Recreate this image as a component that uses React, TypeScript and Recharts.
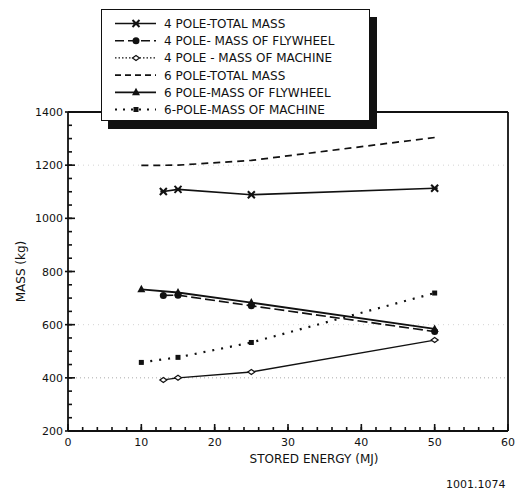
import React from 'react';
import { LineChart, Line, XAxis, YAxis, ReferenceLine } from 'recharts';

// stored energy (MJ) for each machine design
const energy4Pole = [13, 15, 25, 50];
const energy6Pole = [10, 15, 25, 50];

// masses (kg)
const total4Pole = [1101, 1109, 1089, 1113];
const flywheel4Pole = [710, 711, 671, 574];
const machine4Pole = [392, 400, 422, 542];
const total6Pole = [1199, 1200, 1218, 1304];
const flywheel6Pole = [733, 721, 683, 584];
const machine6Pole = [458, 477, 533, 719];

const seriesNames = [
    '4 POLE-TOTAL MASS',
    '4 POLE- MASS OF FLYWHEEL',
    '4 POLE - MASS OF MACHINE',
    '6 POLE-TOTAL MASS',
    '6 POLE-MASS OF FLYWHEEL',
    '6-POLE-MASS OF MACHINE',
];

const xTicks = Array.from({ length: 31 }, (_, i) => i * 2);
const yTicks = Array.from({ length: 25 }, (_, i) => 200 + i * 50);

const FONT = '"DejaVu Sans", Arial, sans-serif';
const INK = '#111';
const MINOR = 4; // inward tick length drawn by recharts

const toPoints = (xs: number[], ys: number[]) => xs.map((x, i) => ({ energy: x, mass: ys[i] }));

// markers
const Star = (cx: number, cy: number, key?: any) => (
    <g key={key}>
        <line x1={cx - 3.5} y1={cy - 3.5} x2={cx + 3.5} y2={cy + 3.5} stroke={INK} strokeWidth={2} />
        <line x1={cx - 3.5} y1={cy + 3.5} x2={cx + 3.5} y2={cy - 3.5} stroke={INK} strokeWidth={2} />
        <line x1={cx - 3} y1={cy} x2={cx + 3} y2={cy} stroke={INK} strokeWidth={2} />
    </g>
);
const Dot = (cx: number, cy: number, key?: any) => <circle key={key} cx={cx} cy={cy} r={3.5} fill={INK} />;
const Diamond = (cx: number, cy: number, key?: any) => (
    <path key={key} d={`M${cx - 3.5},${cy} L${cx},${cy - 2.5} L${cx + 3.5},${cy} L${cx},${cy + 2.5} Z`} fill="#fff" stroke={INK} strokeWidth={1.2} />
);
const Triangle = (cx: number, cy: number, key?: any) => (
    <path key={key} d={`M${cx},${cy - 4.5} L${cx + 4},${cy + 3} L${cx - 4},${cy + 3} Z`} fill={INK} />
);
const Square = (cx: number, cy: number, key?: any) => <rect key={key} x={cx - 2.5} y={cy - 2.5} width={5} height={5} fill={INK} />;

const dotOf = (fn: (cx: number, cy: number, key?: any) => React.ReactElement) => (p: any) =>
    fn(p.cx, p.cy, `${p.dataKey}-${p.index}-${p.cx}`);

// recharts draws the short inward ticks (negative tickSize); these add the longer major ones and labels
const BottomTick = (props: any) => {
    const { x, y, payload } = props;
    const axisY = y + MINOR;
    if (payload.value % 10 !== 0) return <g />;
    return (
        <g>
            <line x1={x} x2={x} y1={axisY} y2={axisY - 7} stroke={INK} strokeWidth={1.6} />
            <text x={x} y={axisY + 15} textAnchor="middle" fontSize={11} fontFamily={FONT} fill={INK}>
                {payload.value}
            </text>
        </g>
    );
};
const TopTick = (props: any) => {
    const { x, y, payload } = props;
    const axisY = y - MINOR;
    if (payload.value % 10 !== 0) return <g />;
    return <line x1={x} x2={x} y1={axisY} y2={axisY + 7} stroke={INK} strokeWidth={1.6} />;
};
const LeftTick = (props: any) => {
    const { x, y, payload } = props;
    const axisX = x - MINOR;
    if (payload.value % 200 !== 0) return <g />;
    return (
        <g>
            <line x1={axisX - 3} x2={axisX + 7} y1={y} y2={y} stroke={INK} strokeWidth={1.6} />
            <text x={axisX - 5} y={y + 4} textAnchor="end" fontSize={11} fontFamily={FONT} fill={INK}>
                {payload.value}
            </text>
        </g>
    );
};
const RightTick = (props: any) => {
    const { x, y, payload } = props;
    const axisX = x + MINOR;
    if (payload.value % 200 !== 0) return <g />;
    return <line x1={axisX} x2={axisX - 8} y1={y} y2={y} stroke={INK} strokeWidth={1.6} />;
};

const legendStyles = [
    { dash: undefined, width: 1.6, marker: Star },
    { dash: '9 4', width: 1.6, marker: Dot },
    { dash: '1.5 2', width: 1.1, marker: Diamond },
    { dash: '6 4', width: 1.6, marker: null },
    { dash: undefined, width: 1.8, marker: Triangle },
    { dash: '2 6', width: 2, marker: Square },
];

const LegendBox: React.FC = () => (
    <div
        style={{
            position: 'absolute',
            left: 101,
            top: 9,
            width: 267,
            height: 110,
            border: `1.5px solid ${INK}`,
            boxShadow: `7px 8px 0 ${INK}`,
            background: '#fff',
        }}
    >
        <svg width={267} height={110}>
            {seriesNames.map((name, i) => {
                const y = 13.5 + i * 17.2;
                const st = legendStyles[i];
                return (
                    <g key={name}>
                        <line x1={13} x2={54} y1={y} y2={y} stroke={INK} strokeWidth={st.width} strokeDasharray={st.dash} />
                        {st.marker && st.marker(34, y)}
                        <text x={62} y={y + 4.5} fontSize={12} fontFamily={FONT} fill={INK}>
                            {name}
                        </text>
                    </g>
                );
            })}
        </svg>
    </div>
);

const tickLineStyle = { stroke: INK, strokeWidth: 1.6 };
const axisLineStyle = { stroke: INK, strokeWidth: 1.8 };

const App: React.FC = () => {
    return (
        <div style={{ position: 'absolute', left: 0, top: 0, width: 516, height: 494, background: '#fff' }}>
            <LineChart width={516} height={494} margin={{ top: 111, right: 7, bottom: 0, left: 18 }}>
                <XAxis
                    dataKey="energy"
                    type="number"
                    domain={[0, 60]}
                    ticks={xTicks}
                    interval={0}
                    height={63}
                    tickSize={-MINOR}
                    tickMargin={0}
                    tickLine={tickLineStyle}
                    tick={BottomTick}
                    axisLine={axisLineStyle}
                    allowDuplicatedCategory={false}
                    label={{ value: 'STORED ENERGY (MJ)', position: 'insideBottom', offset: 31, dx: 26, fontSize: 12, fontFamily: FONT, fill: INK }}
                />
                <XAxis
                    xAxisId="top"
                    orientation="top"
                    type="number"
                    domain={[0, 60]}
                    ticks={xTicks}
                    interval={0}
                    height={1}
                    tickSize={-MINOR}
                    tickMargin={0}
                    tickLine={tickLineStyle}
                    tick={TopTick}
                    axisLine={axisLineStyle}
                />
                <YAxis
                    type="number"
                    domain={[200, 1400]}
                    ticks={yTicks}
                    interval={0}
                    width={50}
                    tickSize={-MINOR}
                    tickMargin={0}
                    tickLine={tickLineStyle}
                    tick={LeftTick}
                    axisLine={axisLineStyle}
                    label={{ value: 'MASS (kg)', angle: -90, position: 'insideLeft', offset: 3, style: { textAnchor: 'middle' }, fontSize: 12, fontFamily: FONT, fill: INK }}
                />
                <YAxis
                    yAxisId="right"
                    orientation="right"
                    type="number"
                    domain={[200, 1400]}
                    ticks={yTicks}
                    interval={0}
                    width={1}
                    tickSize={-MINOR}
                    tickMargin={0}
                    tickLine={tickLineStyle}
                    tick={RightTick}
                    axisLine={axisLineStyle}
                />
                <ReferenceLine y={400} stroke="#aaa" strokeDasharray="1 3" />
                <ReferenceLine y={600} stroke="#d4d4d4" strokeDasharray="1 4" />
                <ReferenceLine y={1200} stroke="#d4d4d4" strokeDasharray="1 4" />

                <Line data={toPoints(energy6Pole, total6Pole)} dataKey="mass" name={seriesNames[3]} stroke={INK} strokeWidth={1.7} strokeDasharray="7 5" dot={false} isAnimationActive={false} />
                <Line data={toPoints(energy4Pole, total4Pole)} dataKey="mass" name={seriesNames[0]} stroke={INK} strokeWidth={1.6} dot={dotOf(Star)} isAnimationActive={false} />
                <Line data={toPoints(energy4Pole, flywheel4Pole)} dataKey="mass" name={seriesNames[1]} stroke={INK} strokeWidth={1.7} strokeDasharray="10 4" dot={dotOf(Dot)} isAnimationActive={false} />
                <Line data={toPoints(energy6Pole, flywheel6Pole)} dataKey="mass" name={seriesNames[4]} stroke={INK} strokeWidth={1.8} dot={dotOf(Triangle)} isAnimationActive={false} />
                <Line data={toPoints(energy4Pole, machine4Pole)} dataKey="mass" name={seriesNames[2]} stroke={INK} strokeWidth={1.3} dot={dotOf(Diamond)} isAnimationActive={false} />
                <Line data={toPoints(energy6Pole, machine6Pole)} dataKey="mass" name={seriesNames[5]} stroke={INK} strokeWidth={2.2} strokeDasharray="2 7" dot={dotOf(Square)} isAnimationActive={false} />
            </LineChart>
            <LegendBox />
            <div
                style={{
                    position: 'absolute',
                    left: 446,
                    top: 478,
                    fontSize: 11,
                    fontFamily: FONT,
                    color: INK,
                    lineHeight: '14px',
                }}
            >
                1001.1074
            </div>
        </div>
    );
};

export default App;
